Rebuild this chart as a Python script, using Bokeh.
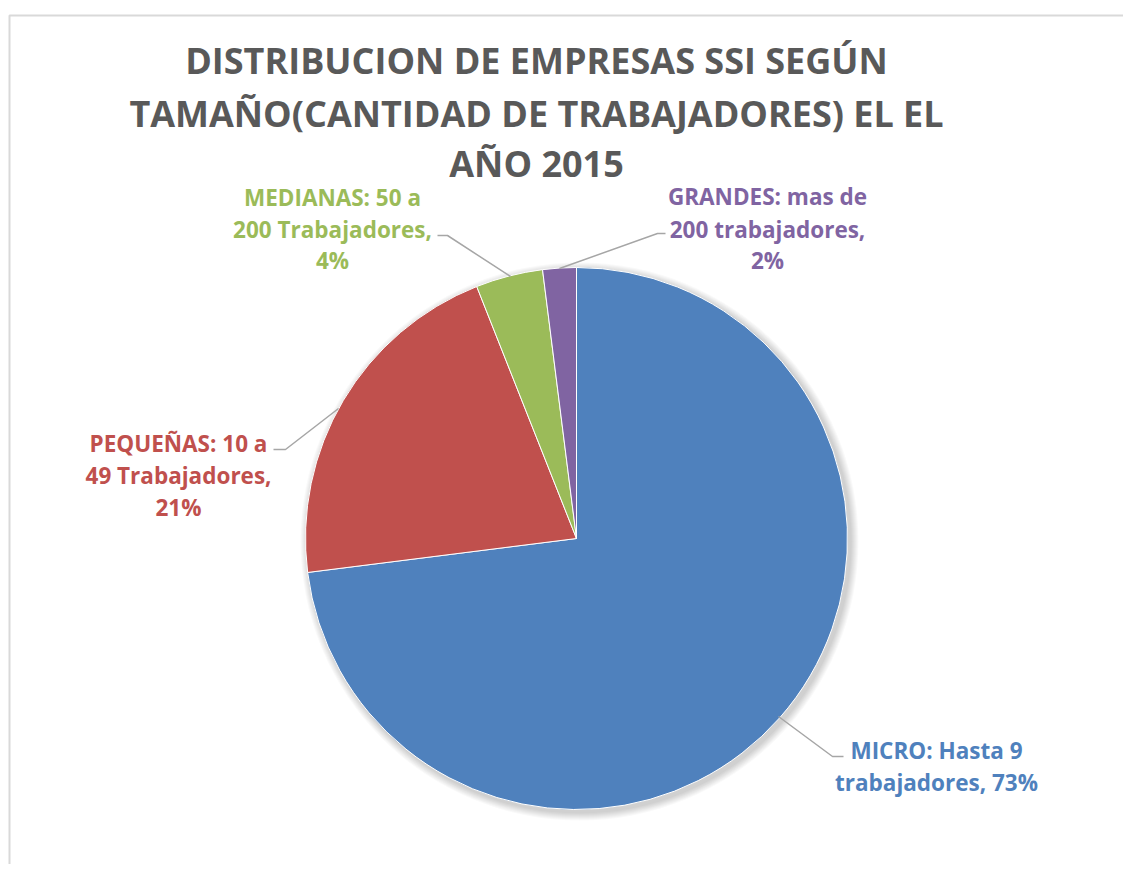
import math
from bokeh.plotting import figure
from bokeh.models import Range1d
from bokeh.core.properties import value
from bokeh.embed import file_html
from bokeh.resources import INLINE

# ---- data ----
categories = ["MICRO: Hasta 9 trabajadores", "PEQUEÑAS: 10 a 49 Trabajadores",
              "MEDIANAS: 50 a 200 Trabajadores", "GRANDES: mas de 200 trabajadores"]
shares = [73, 21, 4, 2]
label_lines = [
    ["MICRO: Hasta 9", "trabajadores, 73%"],
    ["PEQUEÑAS: 10 a", "49 Trabajadores,", "21%"],
    ["MEDIANAS: 50 a", "200 Trabajadores,", "4%"],
    ["GRANDES: mas de", "200 trabajadores,", "2%"],
]
colors = ["#4F81BD", "#C0504D", "#9BBB59", "#8064A2"]
title_lines = ["DISTRIBUCION DE EMPRESAS SSI SEGÚN",
               "TAMAÑO(CANTIDAD DE TRABAJADORES) EL EL",
               "AÑO 2015"]

# ---- layout (page pixel coords; data y = 872 - page y) ----
W, H = 1123, 864
def Y(py):
    return 872 - py

p = figure(width=W, height=H, output_backend="svg", toolbar_location=None,
           x_range=Range1d(0, W), y_range=Range1d(872 - H, 872),
           min_border=0)
p.axis.visible = False
p.grid.visible = False
p.outline_line_color = None
p.background_fill_color = "white"

# chart border
p.line([9, 9, 1140], [Y(900), Y(15), Y(15)], line_color="#D9D9D9", line_width=2)

cx, cy, R = 576, 538, 271

# soft shadow
for i in range(8):
    p.circle(x=[cx + 3], y=[Y(cy + 3)], radius=R + 1 + i, radius_units="screen",
             fill_color="black", fill_alpha=0.025, line_color=None)

total = sum(shares)
cum = 0.0
for s, c in zip(shares, colors):
    a0 = math.pi / 2 - 2 * math.pi * cum / total
    cum += s
    a1 = math.pi / 2 - 2 * math.pi * cum / total
    p.wedge(x=[cx], y=[Y(cy)], radius=R, radius_units="screen",
            start_angle=[a0], end_angle=[a1], direction="clock",
            fill_color=c, line_color="white", line_width=1)

# title
for txt, py in zip(title_lines, [60, 113, 163]):
    p.text(x=[536], y=[Y(py)], text=[txt], text_font=value("Open Sans"),
           text_font_style="bold", text_font_size="36px", text_color="#595959",
           text_align="center", text_baseline="middle")

# labels
label_pos = [(936, [750, 782]), (178, [443, 475, 507]),
             (332, [197, 229, 260]), (767, [196, 229, 260])]
for lines, (lx, ys), c in zip(label_lines, label_pos, colors):
    for t, py in zip(lines, ys):
        p.text(x=[lx], y=[Y(py)], text=[t], text_font=value("Open Sans"),
               text_font_style="bold", text_font_size="22.5px", text_color=c,
               text_align="center", text_baseline="middle")

# leader lines
leaders = [
    ([843, 832, 778], [756, 756, 716]),
    ([273, 285, 338], [449, 449, 408]),
    ([437, 447, 510], [235, 235, 276]),
    ([665, 657, 559], [233, 233, 268]),
]
for xs, ys in leaders:
    p.line(xs, [Y(v) for v in ys], line_color="#A6A6A6", line_width=1.5)

open("out.html", "w").write(file_html(p, INLINE))
